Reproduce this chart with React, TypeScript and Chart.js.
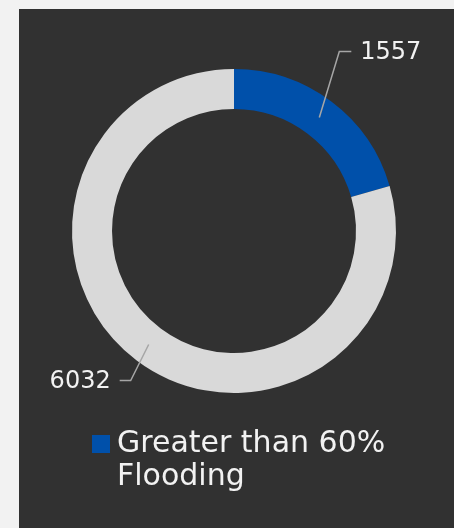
import React, { useEffect, useRef } from "react";
import { Chart, registerables } from "chart.js";

Chart.register(...registerables);

const categories: string[] = ["Greater than 60% Flooding", "Other"];
const legendLines: string[] = ["Greater than 60%", "Flooding"];
const values: number[] = [1557, 6032];
const colors: string[] = ["#0050aa", "#d9d9d9"];

const FONT = "'DejaVu Sans', sans-serif";
const TEXT_COLOR = "#f2f2f2";
const LEADER_COLOR = "#a6a6a6";

// label leader geometry (elbow offset from anchor, then horizontal run)
const leaderStyle = [
  { dx: 20, dy: -66, run: 12, side: 1 },
  { dx: -18, dy: 36, run: -11, side: -1 },
];

const bgPlugin = {
  id: "bgPanel",
  beforeDraw(chart: any) {
    const { ctx, width, height } = chart;
    ctx.save();
    ctx.fillStyle = "#f2f2f2";
    ctx.fillRect(0, 0, width, height);
    ctx.fillStyle = "#313131";
    ctx.fillRect(19, 9, width - 19, height - 9);
    ctx.restore();
  },
};

const labelPlugin = {
  id: "leaderLabels",
  afterDraw(chart: any) {
    const { ctx } = chart;
    const meta = chart.getDatasetMeta(0);
    ctx.save();
    meta.data.forEach((arc: any, i: number) => {
      const p = arc.getProps(["x", "y", "startAngle", "endAngle", "innerRadius", "outerRadius"], true);
      const mid = (p.startAngle + p.endAngle) / 2;
      const r = (p.innerRadius + p.outerRadius) / 2;
      const ax = p.x + Math.cos(mid) * r;
      const ay = p.y + Math.sin(mid) * r;
      const s = leaderStyle[i];
      const ex = ax + s.dx;
      const ey = ay + s.dy;
      const hx = ex + s.run;
      ctx.strokeStyle = LEADER_COLOR;
      ctx.lineWidth = 1.5;
      ctx.beginPath();
      ctx.moveTo(ax, ay);
      ctx.lineTo(ex, ey);
      ctx.lineTo(hx, ey);
      ctx.stroke();
      ctx.fillStyle = TEXT_COLOR;
      ctx.font = `24px ${FONT}`;
      ctx.textBaseline = "middle";
      ctx.textAlign = s.side > 0 ? "left" : "right";
      ctx.fillText(String(chart.data.datasets[0].data[i]), hx + s.side * 9, ey + 1);
    });
    ctx.restore();
  },
};

const legendPlugin = {
  id: "customLegend",
  afterDraw(chart: any) {
    const { ctx } = chart;
    const color = chart.data.datasets[0].backgroundColor[0];
    const x = 92;
    const y = 435;
    ctx.save();
    ctx.fillStyle = color;
    ctx.fillRect(x, y, 18, 18);
    ctx.fillStyle = TEXT_COLOR;
    ctx.font = `30px ${FONT}`;
    ctx.textBaseline = "middle";
    ctx.textAlign = "left";
    legendLines.forEach((line, i) => {
      ctx.fillText(line, x + 25, y + 9 + i * 33);
    });
    ctx.restore();
  },
};

export default function App() {
  const ref = useRef<HTMLCanvasElement>(null);
  useEffect(() => {
    if (!ref.current) return;
    const chart = new Chart(ref.current, {
      type: "doughnut",
      data: {
        labels: categories,
        datasets: [
          {
            data: values,
            backgroundColor: colors,
            borderWidth: 0,
          },
        ],
      },
      options: {
        responsive: false,
        animation: false,
        cutout: "75.3%",
        layout: { padding: { left: 72, top: 69, right: 58, bottom: 135 } },
        plugins: {
          legend: { display: false },
          tooltip: { enabled: false },
        },
      },
      plugins: [bgPlugin, labelPlugin, legendPlugin],
    });
    return () => chart.destroy();
  }, []);
  return (
    <div style={{ position: "fixed", left: 0, top: 0, width: 454, height: 528 }}>
      <canvas ref={ref} width={454} height={528} style={{ display: "block" }} />
    </div>
  );
}
